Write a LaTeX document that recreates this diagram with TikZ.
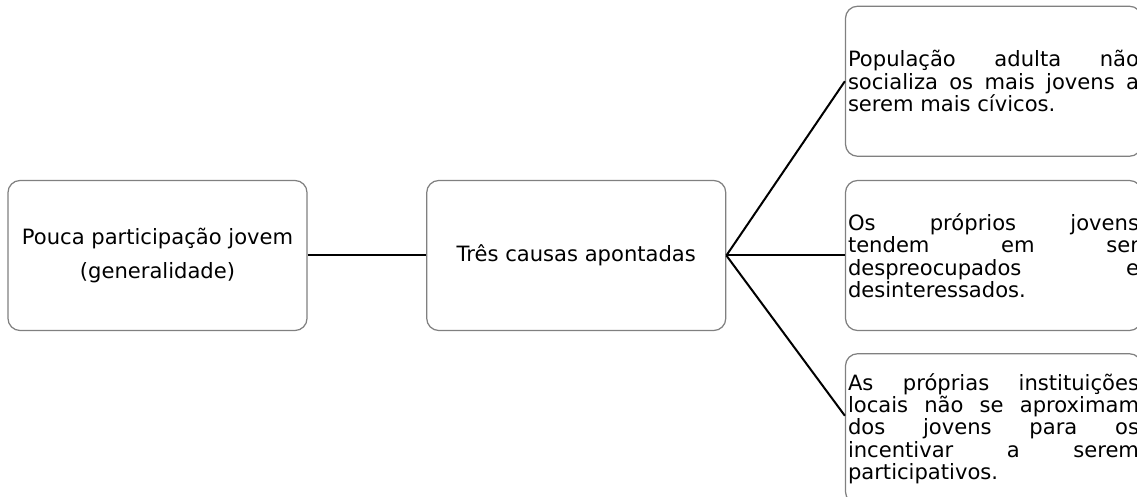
\documentclass[tikz,border=0pt]{standalone}
\usepackage{fontspec}
\setmainfont{DejaVu Sans}
\usetikzlibrary{positioning}
\hyphenpenalty=10000
\tolerance=10000

\tikzset{
  caixa/.style={draw=black!50, line width=0.25mm, rounded corners=2.4mm,
    minimum width=59.8mm, minimum height=30mm, inner sep=0.5mm},
  causa/.style={caixa, minimum width=0mm, text width=58.2mm, align=justify,
    font=\fontsize{12pt}{12.8pt}\selectfont},
  liga/.style={line width=0.4mm}
}

\begin{document}
\begin{tikzpicture}
\useasboundingbox (0,0) rectangle (227.4mm,-99.4mm);
\clip (0,0) rectangle (227.4mm,-99.4mm);

\node[caixa, align=center, font=\fontsize{12pt}{19.9pt}\selectfont] (pouca) at (31.5mm,-51.1mm)
  {Pouca participação jovem\\(generalidade)};
\node[caixa, right=23.7mm of pouca, font=\fontsize{12pt}{12.8pt}\selectfont] (tres) {Três causas apontadas};

\node[causa, right=23.7mm of tres] (jovens) {Os próprios jovens\linebreak tendem em ser\linebreak despreocupados e\linebreak desinteressados.};
\node[causa, above=4.6mm of jovens] (adulta) {População adulta não\linebreak socializa os mais jovens a\linebreak serem mais cívicos.};
\node[causa, below=4.4mm of jovens] (inst) {As próprias instituições\linebreak locais não se aproximam\linebreak dos jovens para os\linebreak incentivar a serem\linebreak participativos.};

\draw[liga] (pouca) -- (tres);
\draw[liga] (tres.east) -- (adulta.west);
\draw[liga] (tres.east) -- (jovens.west);
\draw[liga] (tres.east) -- ([yshift=2.6mm]inst.west);

\end{tikzpicture}
\end{document}
